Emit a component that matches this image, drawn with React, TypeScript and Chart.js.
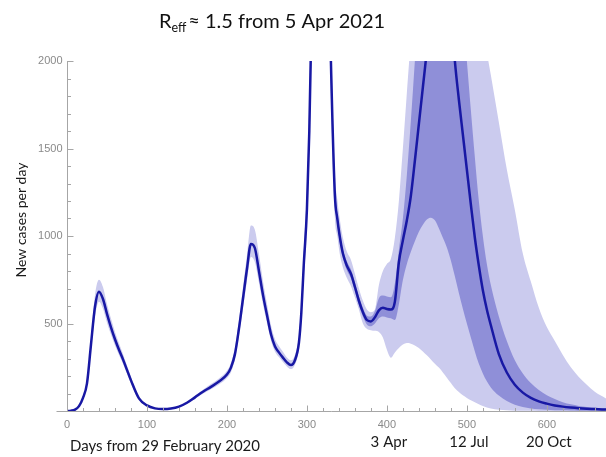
import React, { useEffect, useRef } from 'react';
import { Chart, registerables } from 'chart.js';

Chart.register(...registerables);

// ---------- data ----------
const days = [
  0, 5, 10, 15, 20, 25, 30, 35, 40, 45, 50, 55, 60, 65, 70, 75, 80,
  90, 100, 110, 120, 130, 140, 150, 160, 170, 180, 190, 200,
  205, 210, 215, 220, 225, 230, 235, 240, 245, 250, 255, 260, 265, 270, 275, 280, 285, 290,
  293, 296, 300, 303, 306,
  310, 315, 320, 325, 330, 335,
  338, 341,
  345, 350, 355, 360, 365, 370, 375, 380, 385, 390, 395, 400, 405, 410, 415, 420, 425, 430, 435,
  440, 445, 450, 455, 460, 465, 470, 475, 480, 485, 490, 495, 500, 505, 510, 515, 520, 525, 530,
  540, 550, 560, 570, 580, 590, 600, 610, 620, 630, 640, 650, 660,
  674,
];

const median = [
  0, 2, 8, 28, 75, 158, 380, 596, 682, 640, 555, 478, 410, 350, 295, 235, 175,
  72, 32, 15, 11, 14, 25, 47, 78, 110, 138, 168, 208,
  248, 325, 470, 640, 810, 955, 930, 800, 665, 550, 440, 370, 335, 305, 278, 263, 290, 390,
  560, 830, 1150, 1600, 2300,
  3000, 3500, 3600, 3100, 2000, 1230,
  1100, 1000,
  900, 830, 785, 710, 630, 565, 520, 512, 535, 575, 590, 583, 580, 625, 850, 975, 1090, 1230, 1430,
  1640, 1850, 2060, 2300, 2500, 2600, 2600, 2500, 2300, 2000, 1780, 1580, 1380, 1180, 990, 830, 690, 580, 490,
  325, 220, 150, 105, 75, 55, 42, 32, 25, 20, 16, 13, 11,
  8,
];

const outerUpper = [
  0, 3, 10, 32, 85, 178, 420, 665, 750, 708, 612, 528, 452, 387, 326, 260, 194,
  80, 36, 17, 13, 16, 28, 53, 87, 122, 154, 186, 230,
  275, 362, 520, 705, 890, 1060, 1035, 900, 745, 615, 492, 412, 372, 338, 306, 290, 320, 432,
  620, 920, 1280, 1780, 2500,
  3300, 3800, 3900, 3400, 2200, 1360,
  1210, 1100,
  990, 910, 865, 785, 700, 630, 580, 565, 580, 720, 800, 840, 870, 990, 1200, 1500, 1820, 2150, 2600,
  3000, 3400, 3800, 4000, 4200, 4300, 4300, 4200, 4100, 4000, 3800, 3500, 3200, 2900, 2650, 2400, 2200, 2050, 1920,
  1650, 1380, 1150, 900, 740, 590, 480, 400, 320, 250, 195, 150, 110,
  72,
];

const outerLower = [
  0, 1, 6, 24, 66, 140, 345, 540, 625, 585, 505, 437, 374, 320, 270, 213, 156,
  63, 28, 13, 9, 12, 22, 42, 70, 99, 124, 151, 188,
  222, 295, 430, 585, 740, 880, 850, 735, 610, 505, 405, 340, 308, 280, 255, 240, 265, 355,
  510, 750, 1040, 1450, 2100,
  2700, 3200, 3300, 2900, 1800, 1100,
  1000, 900,
  820, 760, 715, 650, 580, 500, 470, 462, 458, 452, 420, 350, 305, 335, 360, 380, 388, 385, 375,
  360, 340, 318, 295, 270, 248, 220, 190, 160, 130, 108, 90, 75, 62, 50, 38, 28, 20, 14,
  7, 4, 2, 1, 1, 0, 0, 0, 0, 0, 0, 0, 0,
  0,
];

const innerDays = [
  335, 338, 341,
  345, 350, 355, 360, 365, 370, 375, 380, 385, 390, 395, 400, 405, 410, 415, 420, 425, 430, 435,
  440, 445, 450, 455, 460, 465, 470, 475, 480, 485, 490, 495, 500, 505, 510, 515, 520, 525, 530,
  540, 550, 560, 570, 580, 590, 600, 610, 620, 630, 640, 650, 660,
  674,
];

const innerUpper = [
  1270, 1130, 1030,
  925, 855, 810, 735, 655, 590, 545, 540, 570, 645, 660, 655, 650, 730, 920, 1100, 1350, 1660, 2000,
  2350, 2700, 3000, 3200, 3300, 3400, 3400, 3300, 3100, 2800, 2500, 2250, 2000, 1720, 1450, 1200, 1000, 840, 720,
  540, 400, 290, 215, 160, 120, 90, 68, 50, 38, 29, 23, 18,
  14,
];

const innerLower = [
  1190, 1070, 970,
  875, 805, 760, 685, 605, 540, 495, 485, 500, 530, 540, 535, 530, 520, 610, 748, 840, 910, 970,
  1025, 1065, 1095, 1105, 1090, 1045, 990, 935, 860, 770, 675, 585, 500, 420, 340, 270, 215, 170, 135,
  88, 57, 36, 23, 15, 10, 7, 5, 4, 3, 2, 2, 1,
  1,
];

const xTicks = [0, 100, 200, 300, 400, 500, 600];
const yTicks = [500, 1000, 1500, 2000];
const dateDays = [400, 500, 600];
const dateLabels = ['3 Apr', '12 Jul', '20 Oct'];
const xAxisTitle = 'Days from 29 February 2020';
const yAxisTitle = 'New cases per day';
const titleMain = 'R';
const titleSub = 'eff';
const titleRest = '\u2248 1.5 from 5 Apr 2021';

// ---------- styling ----------
const X_MAX = 674;
const Y_MAX = 2000;
const LIGHT = 'rgb(203,203,238)';
const DARK = 'rgb(143,143,216)';
const LINE = 'rgb(24,24,164)';
const AXIS = '#a6a6a6';
const TICKTEXT = '#8a8a8a';

const pts = (xs: number[], ys: number[]) => xs.map((x, i) => ({ x, y: ys[i] }));

const decorPlugin = {
  id: 'decor',
  afterDatasetsDraw(chart: any) {
    const { ctx, chartArea, scales } = chart;
    const xs = scales.x;
    const ys = scales.y;
    const x0 = Math.round(xs.getPixelForValue(0)) + 0.5;
    const y0 = Math.round(ys.getPixelForValue(0)) + 0.5;
    ctx.save();
    ctx.strokeStyle = AXIS;
    ctx.lineWidth = 1;
    ctx.beginPath();
    ctx.moveTo(x0, chartArea.top);
    ctx.lineTo(x0, y0);
    ctx.moveTo(x0 - 11, y0);
    ctx.lineTo(chartArea.right, y0);
    for (let v = 0; v <= X_MAX; v += 20) {
      const px = Math.round(xs.getPixelForValue(v)) + 0.5;
      const len = v % 100 === 0 ? 6 : 3.5;
      ctx.moveTo(px, y0);
      ctx.lineTo(px, y0 - len);
    }
    for (let v = 100; v <= Y_MAX; v += 100) {
      const py = Math.round(ys.getPixelForValue(v)) + 0.5;
      const len = v % 500 === 0 ? 6 : 3.5;
      ctx.moveTo(x0, py);
      ctx.lineTo(x0 + len, py);
    }
    ctx.stroke();

    ctx.fillStyle = TICKTEXT;
    ctx.font = '11px "Liberation Sans", Arial, sans-serif';
    ctx.textAlign = 'center';
    ctx.textBaseline = 'top';
    xTicks.forEach((v) => ctx.fillText(String(v), xs.getPixelForValue(v), y0 + 8));
    ctx.textAlign = 'right';
    ctx.textBaseline = 'middle';
    yTicks.forEach((v) => ctx.fillText(String(v), x0 - 5, ys.getPixelForValue(v)));

    // bottom labels
    ctx.fillStyle = '#1a1a1a';
    ctx.font = '15px Lato, "Open Sans", sans-serif';
    ctx.textBaseline = 'middle';
    ctx.textAlign = 'left';
    ctx.fillText(xAxisTitle, 70, 446);
    ctx.textAlign = 'center';
    dateDays.forEach((d, i) => ctx.fillText(dateLabels[i], xs.getPixelForValue(d) + 2, 442));

    // y title
    ctx.save();
    ctx.translate(21, 220);
    ctx.rotate(-Math.PI / 2);
    ctx.font = '14px Lato, "Open Sans", sans-serif';
    ctx.textAlign = 'center';
    ctx.textBaseline = 'middle';
    ctx.fillText(yAxisTitle, 0, 0);
    ctx.restore();

    // title
    ctx.fillStyle = '#111';
    ctx.textAlign = 'left';
    ctx.textBaseline = 'alphabetic';
    const big = '20px Lato, "Open Sans", sans-serif';
    const small = '12.5px Lato, "Open Sans", sans-serif';
    ctx.font = big;
    const wR = ctx.measureText(titleMain).width;
    const wRest = ctx.measureText(titleRest).width;
    ctx.font = small;
    const wSub = ctx.measureText(titleSub).width;
    const total = wR + wSub + 2 + wRest;
    let tx = 272 - total / 2;
    const base = 28;
    ctx.font = big;
    ctx.fillText(titleMain, tx, base);
    tx += wR;
    ctx.font = small;
    ctx.fillText(titleSub, tx, base + 4);
    tx += wSub + 2;
    ctx.font = big;
    ctx.fillText(titleRest, tx, base);
    ctx.restore();
  },
};

export default function App() {
  const ref = useRef<HTMLCanvasElement | null>(null);
  useEffect(() => {
    if (!ref.current) return;
    const band = (data: any[], fill: any, color: string) => ({
      data,
      fill,
      backgroundColor: color,
      borderColor: 'rgba(0,0,0,0)',
      borderWidth: 0,
      pointRadius: 0,
      cubicInterpolationMode: 'monotone',
    });
    const chart = new Chart(ref.current, {
      type: 'line',
      data: {
        datasets: [
          {
            data: pts(days, median),
            borderColor: LINE,
            borderWidth: 2.5,
            fill: false,
            pointRadius: 0,
            cubicInterpolationMode: 'monotone',
          } as any,
          band(pts(innerDays, innerUpper), '+1', DARK),
          band(pts(innerDays, innerLower), false, DARK),
          band(pts(days, outerUpper), '+1', LIGHT),
          band(pts(days, outerLower), false, LIGHT),
        ],
      },
      options: {
        animation: false,
        responsive: false,
        maintainAspectRatio: false,
        events: [],
        layout: { padding: { left: 67, top: 61, right: 0, bottom: 46 } },
        scales: {
          x: { type: 'linear', min: 0, max: X_MAX, display: false },
          y: { type: 'linear', min: 0, max: Y_MAX, display: false },
        },
        plugins: {
          legend: { display: false },
          tooltip: { enabled: false },
          title: { display: false },
        },
      } as any,
      plugins: [decorPlugin],
    });
    return () => chart.destroy();
  }, []);
  return (
    <div style={{ position: 'fixed', left: 0, top: 0, width: 606, height: 457, background: '#fff' }}>
      <canvas ref={ref} width={606} height={457} style={{ width: 606, height: 457, display: 'block' }} />
    </div>
  );
}
